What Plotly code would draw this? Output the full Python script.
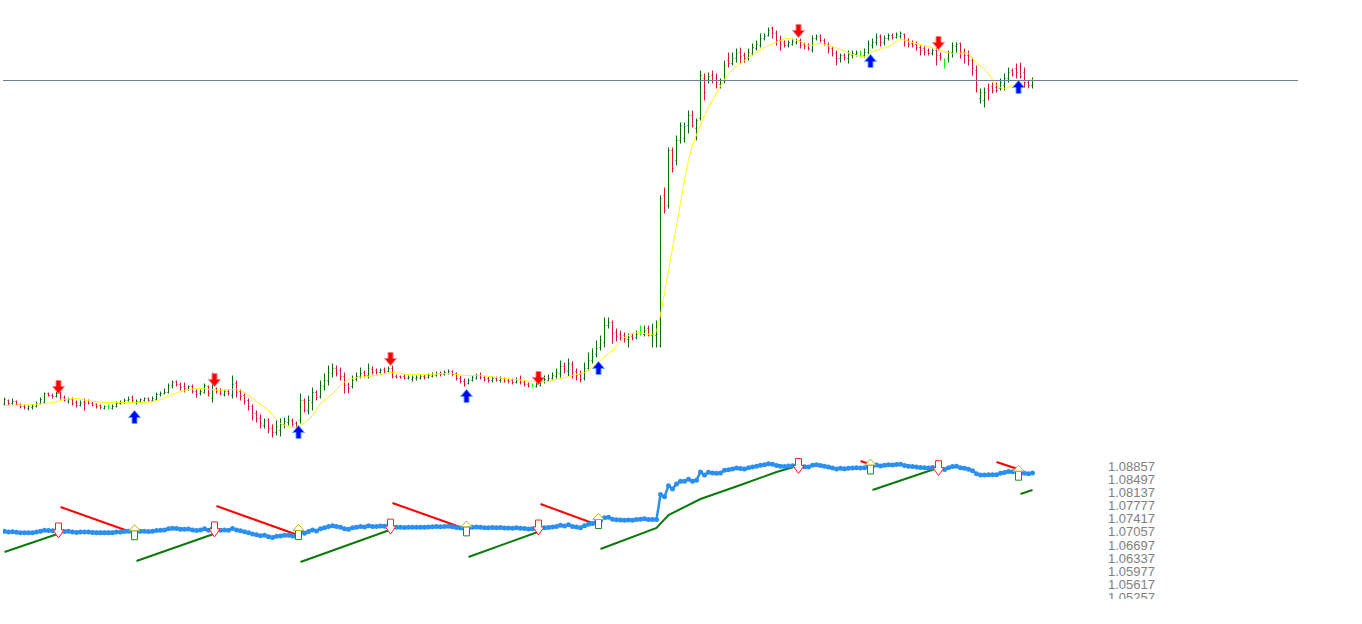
import plotly.graph_objects as go

# ---------------- price bars (one per bar, 258 bars) ----------------
open_ = [
    1.0713, 1.0715, 1.07135, 1.07145, 1.0713, 1.0712, 1.0711, 1.07115, 1.0712, 1.07135,
    1.0714, 1.07185, 1.07175, 1.0717, 1.07185, 1.07165, 1.07145, 1.07155, 1.0714, 1.07125,
    1.0714, 1.0715, 1.07135, 1.0713, 1.07125, 1.0711, 1.07115, 1.0711, 1.0712, 1.07135,
    1.0714, 1.0715, 1.07165, 1.0714, 1.07145, 1.0715, 1.0716, 1.0715, 1.07155, 1.0718,
    1.07185, 1.0719, 1.07225, 1.07245, 1.0723, 1.0722, 1.07205, 1.0722, 1.07195, 1.07185,
    1.0719, 1.0722, 1.0716, 1.0721, 1.072, 1.0718, 1.07195, 1.07175, 1.07235, 1.07195,
    1.07175, 1.0715, 1.0712, 1.07085, 1.0706, 1.07025, 1.0705, 1.0701, 1.0699, 1.07,
    1.0703, 1.0704, 1.0705, 1.07035, 1.0705, 1.0715, 1.071, 1.0714, 1.0719, 1.0717,
    1.0722, 1.0725, 1.07285, 1.0731, 1.073, 1.0727, 1.0723, 1.0722, 1.07255, 1.0727,
    1.0729, 1.07275, 1.07305, 1.073, 1.0729, 1.07305, 1.07295, 1.0731, 1.0727, 1.0727,
    1.0727, 1.0726, 1.07255, 1.0726, 1.0726, 1.0727, 1.07265, 1.0727, 1.07275, 1.07285,
    1.0728, 1.07285, 1.07295, 1.07285, 1.0726, 1.07245, 1.07235, 1.0725, 1.0726, 1.07275,
    1.07265, 1.0726, 1.0725, 1.0726, 1.0725, 1.0726, 1.0725, 1.0725, 1.0724, 1.07255,
    1.0724, 1.0723, 1.07225, 1.0722, 1.07225, 1.07245, 1.0725, 1.0726, 1.0727, 1.07285,
    1.0732, 1.07295, 1.0733, 1.07295, 1.0728, 1.0726, 1.0731, 1.0735, 1.0738, 1.07415,
    1.0744, 1.07525, 1.0754, 1.0749, 1.0748, 1.07475, 1.07455, 1.0747, 1.07465, 1.07485,
    1.0748, 1.0751, 1.07475, 1.07475, 1.07425, 1.08175, 1.08125, 1.084, 1.0835, 1.0845,
    1.0846, 1.08525, 1.08575, 1.0851, 1.0856, 1.0876, 1.0875, 1.08775, 1.0876, 1.0873,
    1.0875, 1.0885, 1.08835, 1.0886, 1.0889, 1.08875, 1.08865, 1.08885, 1.0891, 1.08925,
    1.0896, 1.08975, 1.0901, 1.08985, 1.0895, 1.0894, 1.08925, 1.0893, 1.0894, 1.0895,
    1.0893, 1.08925, 1.089, 1.0896, 1.0897, 1.0895, 1.0893, 1.0891, 1.08885, 1.0886,
    1.08875, 1.0886, 1.08875, 1.0888, 1.08885, 1.08875, 1.0889, 1.08925, 1.0894, 1.0897,
    1.0894, 1.0896, 1.08975, 1.08965, 1.0897, 1.0898, 1.0895, 1.08935, 1.0893, 1.08915,
    1.0891, 1.089, 1.08885, 1.089, 1.08875, 1.0884, 1.0886, 1.0889, 1.0892, 1.08935,
    1.0889, 1.08875, 1.0885, 1.088, 1.0866, 1.0865, 1.0871, 1.0872, 1.08715, 1.0871,
    1.08725, 1.0876, 1.088, 1.0881, 1.0882, 1.0879, 1.0874, 1.08725,
]
high = [
    1.07165, 1.07155, 1.0716, 1.0715, 1.07135, 1.0713, 1.07125, 1.0713, 1.07145, 1.07165,
    1.0719, 1.0719, 1.07185, 1.07195, 1.07195, 1.07175, 1.07165, 1.07165, 1.0715, 1.0715,
    1.0716, 1.07155, 1.07145, 1.07135, 1.0713, 1.07125, 1.0713, 1.0713, 1.07145, 1.0715,
    1.0716, 1.0717, 1.07175, 1.07155, 1.0716, 1.07165, 1.07165, 1.0717, 1.0719, 1.07195,
    1.0721, 1.07235, 1.0725, 1.0725, 1.0724, 1.0724, 1.07225, 1.0723, 1.07205, 1.07205,
    1.07235, 1.07225, 1.0729, 1.07215, 1.0721, 1.07205, 1.07205, 1.07275, 1.0725, 1.07205,
    1.07185, 1.0716, 1.0713, 1.071, 1.0708, 1.0706, 1.0706, 1.0703, 1.0705, 1.0706,
    1.07065, 1.07075, 1.0706, 1.07045, 1.07185, 1.0716, 1.07175, 1.07215, 1.072, 1.0725,
    1.07285, 1.07325, 1.07335, 1.07325, 1.07315, 1.0729, 1.0724, 1.07275, 1.0729, 1.07315,
    1.073, 1.07335, 1.0732, 1.0731, 1.0731, 1.07315, 1.0732, 1.07325, 1.0728, 1.07275,
    1.0728, 1.07275, 1.07275, 1.07275, 1.0728, 1.0728, 1.07285, 1.0729, 1.07295, 1.07295,
    1.073, 1.07305, 1.073, 1.0729, 1.07275, 1.0726, 1.0726, 1.07275, 1.07285, 1.0729,
    1.07275, 1.0727, 1.0727, 1.0727, 1.0727, 1.07265, 1.0726, 1.0726, 1.07265, 1.07275,
    1.0725, 1.0724, 1.07235, 1.0724, 1.0726, 1.07275, 1.0728, 1.0729, 1.0731, 1.0735,
    1.0734, 1.0736, 1.07345, 1.0731, 1.073, 1.0734, 1.0739, 1.0741, 1.0745, 1.07475,
    1.07565, 1.07565, 1.0755, 1.0751, 1.075, 1.0749, 1.07485, 1.07485, 1.075, 1.07525,
    1.07525, 1.07525, 1.07535, 1.0755, 1.08175, 1.08215, 1.08415, 1.08415, 1.08475, 1.0854,
    1.0854, 1.086, 1.086, 1.0856, 1.088, 1.08785, 1.0879, 1.088, 1.08785, 1.0876,
    1.0885, 1.0889, 1.0889, 1.0891, 1.08915, 1.0889, 1.0891, 1.08935, 1.0895, 1.08985,
    1.08985, 1.09015, 1.0902, 1.09, 1.08975, 1.0895, 1.0895, 1.0896, 1.0896, 1.0896,
    1.0894, 1.08935, 1.08975, 1.0898, 1.0898, 1.0896, 1.0894, 1.0892, 1.089, 1.08885,
    1.08885, 1.089, 1.089, 1.089, 1.089, 1.0891, 1.0895, 1.0896, 1.08985, 1.0898,
    1.08975, 1.08985, 1.08985, 1.0899, 1.08995, 1.08985, 1.0896, 1.0895, 1.08945, 1.08925,
    1.0892, 1.0891, 1.0891, 1.08915, 1.0889, 1.0886, 1.089, 1.0894, 1.0894, 1.0894,
    1.0891, 1.089, 1.08865, 1.08825, 1.0871, 1.08715, 1.08735, 1.0874, 1.0874, 1.0876,
    1.08785, 1.08815, 1.0881, 1.08835, 1.0884, 1.08815, 1.0875, 1.08765,
]
low = [
    1.07125, 1.07125, 1.0713, 1.07125, 1.0711, 1.07105, 1.071, 1.07105, 1.07115, 1.0713,
    1.07135, 1.0717, 1.0716, 1.07165, 1.07155, 1.07145, 1.07135, 1.07125, 1.07115, 1.0712,
    1.071, 1.0713, 1.0712, 1.0711, 1.07105, 1.07105, 1.07105, 1.07105, 1.07115, 1.0713,
    1.07135, 1.07145, 1.0714, 1.0713, 1.0714, 1.07145, 1.07145, 1.07145, 1.0715, 1.0717,
    1.0718, 1.07185, 1.0721, 1.0722, 1.072, 1.0719, 1.072, 1.07185, 1.07165, 1.07175,
    1.07185, 1.0717, 1.0714, 1.07185, 1.07175, 1.0717, 1.07175, 1.0716, 1.07165, 1.0715,
    1.0713, 1.071, 1.0705, 1.0704, 1.0701, 1.0701, 1.06985, 1.06965, 1.06975, 1.0697,
    1.0701, 1.07025, 1.0702, 1.07, 1.07035, 1.0709, 1.0708, 1.071, 1.0715, 1.0716,
    1.072, 1.07225, 1.07265, 1.0727, 1.0725, 1.07185, 1.07185, 1.0721, 1.07245, 1.0726,
    1.07265, 1.0726, 1.0728, 1.0728, 1.07285, 1.07285, 1.0729, 1.0726, 1.0726, 1.0726,
    1.07255, 1.07255, 1.07245, 1.0725, 1.07255, 1.07255, 1.0726, 1.07265, 1.0727, 1.0727,
    1.07275, 1.0728, 1.0727, 1.0725, 1.07235, 1.0722, 1.0723, 1.07245, 1.07255, 1.07255,
    1.07245, 1.0724, 1.0724, 1.07245, 1.0724, 1.0724, 1.07235, 1.0723, 1.07235, 1.0723,
    1.0722, 1.07215, 1.07215, 1.07215, 1.0722, 1.07235, 1.07245, 1.07255, 1.0726, 1.07265,
    1.07285, 1.0727, 1.0726, 1.0725, 1.0724, 1.0725, 1.073, 1.07335, 1.07365, 1.074,
    1.07415, 1.0751, 1.07435, 1.07445, 1.0745, 1.0744, 1.07415, 1.0745, 1.07455, 1.07475,
    1.0747, 1.0747, 1.07415, 1.07415, 1.07415, 1.08085, 1.0811, 1.0829, 1.08325, 1.08435,
    1.0844, 1.08485, 1.08515, 1.0845, 1.0855, 1.0865, 1.08735, 1.08735, 1.0871, 1.0871,
    1.08735, 1.08815, 1.08825, 1.0884, 1.08835, 1.0884, 1.0885, 1.08875, 1.089, 1.08915,
    1.0895, 1.0897, 1.0896, 1.08925, 1.089, 1.08915, 1.08915, 1.08925, 1.0893, 1.0891,
    1.08905, 1.089, 1.0889, 1.0895, 1.0894, 1.08925, 1.08885, 1.0887, 1.08825, 1.0884,
    1.0885, 1.08835, 1.0886, 1.0887, 1.08865, 1.08865, 1.0888, 1.0891, 1.08925, 1.0892,
    1.08925, 1.0895, 1.08955, 1.0896, 1.0896, 1.0892, 1.08915, 1.08915, 1.089, 1.08875,
    1.08875, 1.08875, 1.08875, 1.08825, 1.0885, 1.0881, 1.0884, 1.08865, 1.0889, 1.0886,
    1.08835, 1.08825, 1.08775, 1.0869, 1.08635, 1.08615, 1.0865, 1.08685, 1.0869, 1.087,
    1.087, 1.0874, 1.0877, 1.0876, 1.0876, 1.08715, 1.0871, 1.0871,
]
close = [
    1.07155, 1.07135, 1.07145, 1.0713, 1.0712, 1.07115, 1.0712, 1.0712, 1.07135, 1.07155,
    1.07185, 1.07175, 1.0717, 1.07185, 1.07165, 1.0715, 1.07155, 1.07135, 1.07125, 1.07135,
    1.07135, 1.07135, 1.07125, 1.0712, 1.07115, 1.0712, 1.07115, 1.0712, 1.07135, 1.0714,
    1.0715, 1.07155, 1.0715, 1.07145, 1.07155, 1.0716, 1.0715, 1.0716, 1.0718, 1.07185,
    1.0719, 1.07225, 1.0724, 1.0723, 1.07215, 1.0721, 1.0722, 1.07195, 1.0718, 1.07195,
    1.07225, 1.07185, 1.0724, 1.07195, 1.07185, 1.07195, 1.07185, 1.0723, 1.0719, 1.0717,
    1.07145, 1.0712, 1.07085, 1.0706, 1.07035, 1.0705, 1.0701, 1.0699, 1.0702, 1.0703,
    1.07045, 1.0705, 1.0703, 1.0701, 1.0715, 1.071, 1.0715, 1.0719, 1.07165, 1.07225,
    1.0725, 1.0729, 1.0731, 1.07285, 1.0727, 1.07225, 1.0721, 1.0725, 1.0727, 1.07285,
    1.07275, 1.0731, 1.0729, 1.0729, 1.073, 1.07295, 1.0731, 1.0727, 1.07265, 1.07265,
    1.0726, 1.07265, 1.07265, 1.07265, 1.0727, 1.07265, 1.07275, 1.0728, 1.07285, 1.0728,
    1.0729, 1.07295, 1.0728, 1.0726, 1.07245, 1.0723, 1.0725, 1.07265, 1.07275, 1.07265,
    1.07255, 1.0725, 1.0726, 1.0725, 1.0726, 1.07245, 1.07245, 1.0724, 1.07255, 1.0724,
    1.0723, 1.0722, 1.07225, 1.0723, 1.07245, 1.07255, 1.0726, 1.07275, 1.0729, 1.0732,
    1.073, 1.07335, 1.0729, 1.07275, 1.07255, 1.0731, 1.0735, 1.0737, 1.0741, 1.0745,
    1.07525, 1.0754, 1.07485, 1.0747, 1.07465, 1.0746, 1.07465, 1.0746, 1.0748, 1.07485,
    1.075, 1.07475, 1.0748, 1.0748, 1.0816, 1.081, 1.084, 1.0831, 1.0845, 1.08525,
    1.0852, 1.08575, 1.08525, 1.0855, 1.08775, 1.0869, 1.0877, 1.0875, 1.0874, 1.0875,
    1.08825, 1.08835, 1.0886, 1.08885, 1.0887, 1.0886, 1.0889, 1.08915, 1.0893, 1.0896,
    1.0897, 1.09, 1.08985, 1.0895, 1.0893, 1.08925, 1.0894, 1.08945, 1.0895, 1.08925,
    1.0892, 1.0891, 1.0896, 1.0897, 1.0895, 1.08935, 1.0891, 1.08885, 1.0886, 1.08875,
    1.08865, 1.0888, 1.08885, 1.0889, 1.08885, 1.0889, 1.0893, 1.0894, 1.08965, 1.0894,
    1.0896, 1.08975, 1.08965, 1.0898, 1.08985, 1.0895, 1.0893, 1.08925, 1.08915, 1.089,
    1.0889, 1.08885, 1.089, 1.08875, 1.08865, 1.0884, 1.0889, 1.08925, 1.0893, 1.0889,
    1.08875, 1.0885, 1.0881, 1.08725, 1.0869, 1.0869, 1.087, 1.087, 1.087, 1.0874,
    1.0876, 1.0879, 1.0878, 1.0879, 1.0877, 1.0874, 1.08725, 1.0875,
]

# ---------------- smoothed moving average (yellow) ----------------
ma_bars = [0, 7, 12, 15, 18, 22, 26, 32, 36, 39, 42, 46, 49, 54, 57, 59, 62, 66, 69, 72,
           74, 77, 79, 82, 84, 86, 88, 93, 97, 101, 106, 111, 115, 119, 125, 128, 132, 136, 138, 142,
           145, 148, 152, 155, 158, 162, 163, 164, 166, 168, 170, 171, 172, 175, 177, 181, 186, 190, 194, 196,
           199, 201, 204, 206, 209, 212, 215, 217, 221, 224, 227, 231, 234, 237, 241, 242, 246, 248, 250, 252,
           255, 257]
ma_values = [1.07125, 1.0713, 1.0714, 1.07155, 1.0716, 1.07145, 1.0714, 1.0714, 1.0714, 1.07155,
             1.0718, 1.07205, 1.0721, 1.072, 1.07205, 1.072, 1.0716, 1.071, 1.07035, 1.07015,
             1.07025, 1.07075, 1.07135, 1.07185, 1.07225, 1.07255, 1.07265, 1.07275, 1.0729, 1.0728,
             1.0728, 1.07285, 1.07275, 1.07275, 1.0726, 1.07255, 1.07245, 1.07245, 1.07255, 1.07275,
             1.0729, 1.07335, 1.074, 1.07465, 1.0749, 1.0748, 1.075, 1.0758, 1.078, 1.08025,
             1.0825, 1.0835, 1.08425, 1.08575, 1.0865, 1.08785, 1.08865, 1.08915, 1.0895, 1.0896,
             1.08945, 1.08925, 1.08935, 1.08925, 1.08905, 1.0888, 1.0887, 1.08895, 1.0892, 1.08955,
             1.0894, 1.0892, 1.089, 1.08885, 1.08885, 1.0886, 1.08785, 1.08725, 1.0871, 1.08725,
             1.08745, 1.08755]

# ---------------- signals ----------------
sell_bars = [14, 53, 97, 134, 199, 234]
sell_arrow_price = [1.07185, 1.0722, 1.07325, 1.0723, 1.08965, 1.08905]
buy_bars = [33, 74, 116, 149, 217, 254]
buy_arrow_price = [1.071, 1.07025, 1.07205, 1.07345, 1.0888, 1.0875]

# ---------------- indicator trend lines (lower panel) ----------------
red_line_bars = [[14, 33], [53, 74], [97, 116], [134, 149], [214, 217], [248, 254]]
red_line_values = [[1.0782, 1.07083], [1.07847, 1.07028], [1.07929, 1.07192],
                   [1.07902, 1.07301], [1.09075, 1.08966], [1.09048, 1.0883]]
green_line_bars = [[0, 14], [33, 53], [74, 97], [116, 134],
                   [149, 163, 166, 174, 184, 193, 199], [217, 234], [254, 257]]
green_line_values = [[1.06591, 1.0711], [1.06345, 1.0711], [1.06318, 1.07219], [1.06455, 1.07164],
                     [1.06673, 1.07246, 1.07601, 1.08038, 1.0842, 1.08775, 1.08966],
                     [1.08284, 1.08912], [1.08175, 1.08284]]

price_line = 1.0875
indicator_ticks = [1.08857, 1.08497, 1.08137, 1.07777, 1.07417, 1.07057,
                   1.06697, 1.06337, 1.05977, 1.05617, 1.05257]

# ======================================================================
W, H = 1362, 624
ML, MR = 3, 64
PW = W - ML - MR

bars = list(range(len(close)))
normal = [i for i in bars if open_[i] != close[i]]
doji = [i for i in bars if open_[i] == close[i]]

fig = go.Figure()

fig.add_trace(go.Ohlc(
    x=normal,
    open=[open_[i] for i in normal], high=[high[i] for i in normal],
    low=[low[i] for i in normal], close=[close[i] for i in normal],
    increasing=dict(line=dict(color="#0a6b0a", width=1)),
    decreasing=dict(line=dict(color="#dc143c", width=1)),
    tickwidth=0.25, hoverinfo="skip", showlegend=False,
))
if doji:
    gaps = [b - a for a, b in zip(doji[:-1], doji[1:])] or [1]
    fig.add_trace(go.Ohlc(
        x=doji,
        open=[open_[i] for i in doji], high=[high[i] for i in doji],
        low=[low[i] for i in doji], close=[close[i] for i in doji],
        increasing=dict(line=dict(color="#00ff00", width=1)),
        decreasing=dict(line=dict(color="#00ff00", width=1)),
        tickwidth=0.25 / min(gaps), hoverinfo="skip", showlegend=False,
    ))

fig.add_trace(go.Scatter(
    x=ma_bars, y=ma_values, mode="lines",
    line=dict(color="#ffff00", width=1, shape="spline", smoothing=0.7),
    hoverinfo="skip", showlegend=False,
))


# lower panel
def joined(list_x, list_y):
    xs, ys = [], []
    for a, b in zip(list_x, list_y):
        xs += list(a) + [None]
        ys += list(b) + [None]
    return xs, ys


gx, gy = joined(green_line_bars, green_line_values)
rx, ry = joined(red_line_bars, red_line_values)
fig.add_trace(go.Scatter(x=gx, y=gy, yaxis="y2", mode="lines",
                         line=dict(color="#0a7a0a", width=2), hoverinfo="skip", showlegend=False))
fig.add_trace(go.Scatter(x=rx, y=ry, yaxis="y2", mode="lines",
                         line=dict(color="#ff0000", width=2), hoverinfo="skip", showlegend=False))
fig.add_trace(go.Scatter(
    x=bars, y=close, yaxis="y2", mode="lines+markers",
    line=dict(color="#2a8ff0", width=2.5),
    marker=dict(size=5, color="#2a8ff0"),
    hoverinfo="skip", showlegend=False,
))

# ---------------- arrow glyphs (pixel-sized shapes anchored on data) ----------------
DX = -2


def path(pts):
    return "M " + " L ".join(f"{px + DX},{py}" for px, py in pts) + " Z"


SELL_SOLID = [(0, 0), (6, 7), (2.5, 7), (2.5, 13), (-2.5, 13), (-2.5, 7), (-6, 7)]
BUY_SOLID = [(0, 0), (6, -7), (2.5, -7), (2.5, -13), (-2.5, -13), (-2.5, -7), (-6, -7)]
SELL_HOLLOW = [(-3, 8), (3, 8), (3, 1), (5.5, 1), (0, -7), (-5.5, 1), (-3, 1)]
BUY_HEAD = [(0, 7), (5.5, 1), (-5.5, 1)]
BUY_SHAFT = [(-3, 1), (3, 1), (3, -8), (-3, -8)]

shapes = []


def anchored(b, v, yref, pts, fill, line_color):
    return dict(type="path", xref="x", yref=yref, xsizemode="pixel", ysizemode="pixel",
                xanchor=b, yanchor=v, path=path(pts), fillcolor=fill,
                line=dict(color=line_color, width=1), layer="above")


for b, v in zip(sell_bars, sell_arrow_price):
    shapes.append(anchored(b, v, "y", SELL_SOLID, "#ff0000", "#ff7a7a"))
for b, v in zip(buy_bars, buy_arrow_price):
    shapes.append(anchored(b, v, "y", BUY_SOLID, "#0000ff", "#5aa8ff"))
for b in sell_bars:
    shapes.append(anchored(b, close[b], "y2", SELL_HOLLOW, "white", "#ff2020"))
for b in buy_bars:
    shapes.append(anchored(b, close[b], "y2", BUY_SHAFT, "white", "#1f8a1f"))
    shapes.append(anchored(b, close[b], "y2", BUY_HEAD, "white", "#b4b418"))

# horizontal price line
shapes.append(dict(type="line", xref="paper", yref="y", x0=0, x1=1, y0=price_line, y1=price_line,
                   line=dict(color="#708090", width=1), layer="above"))
# bottom edge of the indicator window cuts the last scale label
shapes.append(dict(type="rect", xref="paper", yref="paper", x0=0.80, x1=1.06,
                   y0=-0.02, y1=1 - 599 / H, fillcolor="white", line=dict(width=0), layer="above"))

# ---------------- axes ----------------
TOP_PX = 450
LOW_TOP, LOW_BOT = 448, 606
TOP_RANGE = [1.069025, 1.091525]
LOW_RANGE = [1.051169, 1.094303]

fig.update_layout(
    width=W, height=H,
    margin=dict(l=ML, r=MR, t=0, b=0, pad=0),
    paper_bgcolor="white", plot_bgcolor="white",
    showlegend=False,
    shapes=shapes,
    xaxis=dict(range=[-0.375, 323.375], visible=False, showgrid=False, zeroline=False,
               rangeslider=dict(visible=False)),
    yaxis=dict(domain=[1 - TOP_PX / H, 1], range=TOP_RANGE, visible=False,
               showgrid=False, zeroline=False),
    yaxis2=dict(domain=[1 - LOW_BOT / H, 1 - LOW_TOP / H], range=LOW_RANGE,
                anchor="free", position=(1107 - ML) / PW, side="right",
                tickvals=indicator_ticks, ticktext=[f"{v:.5f}" for v in indicator_ticks],
                showgrid=False, zeroline=False, showline=False, ticks="",
                ticklabelshift=-3,
                tickfont=dict(family="Arial, 'Liberation Sans', sans-serif", size=13, color="#808080")),
)

fig.write_html("out.html", config={"displayModeBar": False},
               post_script="document.body.style.margin='0';")
